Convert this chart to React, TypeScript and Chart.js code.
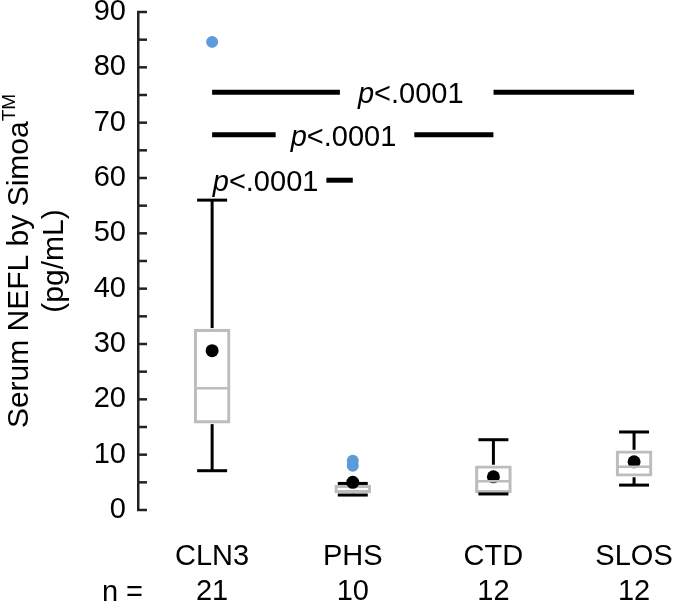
import { useEffect, useRef } from 'react';
import { Chart, registerables } from 'chart.js';

Chart.register(...registerables);

// ---- data ----
const categories = ['CLN3', 'PHS', 'CTD', 'SLOS'];
const nCounts = ['21', '10', '12', '12'];
const whiskerLow = [7.1, 2.7, 2.9, 4.5];
const q1 = [15.7, 3.1, 3.1, 6.1];
const median = [22.0, 3.4, 5.2, 7.8];
const q3 = [32.7, 4.5, 8.0, 10.7];
const whiskerHigh = [56.0, 4.8, 12.7, 14.1];
const means = [28.8, 5.0, 6.0, 8.7];
const outlierCat = [0, 1, 1];
const outlierVal = [84.6, 8.0, 8.9];
const bracketFrom = [0, 0, 0];
const bracketTo = [3, 2, 1];
const bracketY = [75.5, 67.8, 59.6];
const bracketLabel = ['p<.0001', 'p<.0001', 'p<.0001'];
const yMin = 0;
const yMax = 90;
const yStep = 5;
const yLabelStep = 10;

// ---- layout / style ----
const FONT = '"Liberation Sans", Arial, Helvetica, sans-serif';
const BOX_GRAY = '#bdbdbd';
const LABEL_POS = [1.412, 0.934, 0.38];
const PAD_L = [18, 15, 8];
const PAD_R = [30, 18, 8];

const overlay = {
  id: 'overlay',
  afterDatasetsDraw(chart: any) {
    const { ctx } = chart;
    const x = chart.scales.x;
    const y = chart.scales.y;
    ctx.save();
    // whiskers
    ctx.strokeStyle = '#000';
    ctx.lineWidth = 3;
    ctx.lineCap = 'butt';
    const line = (a: number, b: number, c: number, d: number) => {
      ctx.beginPath();
      ctx.moveTo(a, b);
      ctx.lineTo(c, d);
      ctx.stroke();
    };
    for (let i = 0; i < categories.length; i++) {
      const cx = x.getPixelForValue(i);
      const yq1 = y.getPixelForValue(q1[i]);
      const yq3 = y.getPixelForValue(q3[i]);
      const ylo = y.getPixelForValue(whiskerLow[i]);
      const yhi = y.getPixelForValue(whiskerHigh[i]);
      if (yhi < yq3 - 1) line(cx, yq3 - 1, cx, yhi);
      line(cx - 15, yhi, cx + 15, yhi);
      if (ylo > yq1 + 1) line(cx, yq1 + 1, cx, ylo);
      line(cx - 15, ylo, cx + 15, ylo);
    }
    // medians
    ctx.strokeStyle = BOX_GRAY;
    ctx.lineWidth = 2.5;
    for (let i = 0; i < categories.length; i++) {
      const cx = x.getPixelForValue(i);
      const ym = y.getPixelForValue(median[i]);
      line(cx - 17, ym, cx + 17, ym);
    }
    // brackets with p labels
    ctx.strokeStyle = '#000';
    ctx.fillStyle = '#000';
    ctx.lineWidth = 5;
    ctx.textBaseline = 'alphabetic';
    ctx.textAlign = 'left';
    for (let k = 0; k < bracketY.length; k++) {
      const x1 = x.getPixelForValue(bracketFrom[k]);
      const x2 = x.getPixelForValue(bracketTo[k]);
      const yy = y.getPixelForValue(bracketY[k]);
      const tc = x.getPixelForValue(LABEL_POS[k]);
      const first = bracketLabel[k].slice(0, 1);
      const rest = bracketLabel[k].slice(1);
      ctx.font = `italic 29px ${FONT}`;
      const w1 = ctx.measureText(first).width;
      ctx.font = `29px ${FONT}`;
      const w2 = ctx.measureText(rest).width;
      const tl = tc - (w1 + w2) / 2;
      const tr = tc + (w1 + w2) / 2;
      if (tl - PAD_L[k] > x1 + 2) line(x1, yy, tl - PAD_L[k], yy);
      if (tr + PAD_R[k] < x2 - 2) line(tr + PAD_R[k], yy, x2, yy);
      ctx.font = `italic 29px ${FONT}`;
      ctx.fillText(first, tl, yy + 11);
      ctx.font = `29px ${FONT}`;
      ctx.fillText(rest, tl + w1, yy + 11);
    }
    ctx.restore();
  },
  afterDraw(chart: any) {
    const { ctx, chartArea } = chart;
    const y = chart.scales.y;
    ctx.save();
    // inward ticks
    ctx.strokeStyle = '#222';
    ctx.lineWidth = 2.5;
    for (let v = yMin; v <= yMax; v += yStep) {
      const py = y.getPixelForValue(v);
      ctx.beginPath();
      ctx.moveTo(chartArea.left - 1, py);
      ctx.lineTo(chartArea.left + 9, py);
      ctx.stroke();
    }
    // y title
    ctx.fillStyle = '#000';
    const cy = (chartArea.top + chartArea.bottom) / 2;
    ctx.translate(28, cy);
    ctx.rotate(-Math.PI / 2);
    ctx.textBaseline = 'alphabetic';
    ctx.textAlign = 'left';
    const main = 'Serum NEFL by Simoa';
    const sup = 'TM';
    ctx.font = `30px ${FONT}`;
    const wm = ctx.measureText(main).width;
    ctx.font = `19px ${FONT}`;
    const ws = ctx.measureText(sup).width;
    const start = -(wm + ws) / 2;
    ctx.font = `30px ${FONT}`;
    ctx.fillText(main, start, 0);
    ctx.font = `19px ${FONT}`;
    ctx.fillText(sup, start + wm, -13);
    ctx.font = `30px ${FONT}`;
    ctx.textAlign = 'center';
    ctx.fillText('(pg/mL)', 0, 35);
    ctx.restore();
    // n =
    ctx.save();
    ctx.fillStyle = '#000';
    ctx.font = `29px ${FONT}`;
    ctx.textAlign = 'right';
    ctx.textBaseline = 'alphabetic';
    ctx.fillText('n =', 143, 601);
    ctx.restore();
  },
};

export default function App() {
  const ref = useRef<HTMLCanvasElement | null>(null);
  useEffect(() => {
    if (!ref.current) return;
    const chart = new Chart(ref.current, {
      type: 'bar',
      data: {
        datasets: [
          {
            type: 'scatter',
            data: means.map((m, i) => ({ x: i, y: m })),
            pointRadius: 6.5,
            pointBackgroundColor: '#000',
            pointBorderWidth: 0,
            order: 1,
          } as any,
          {
            type: 'scatter',
            data: outlierVal.map((v, i) => ({ x: outlierCat[i], y: v })),
            pointRadius: 6,
            pointBackgroundColor: '#5b9bd9',
            pointBorderWidth: 0,
            order: 1,
          } as any,
          {
            type: 'bar',
            data: categories.map((_, i) => ({ x: i, y: [q1[i], q3[i]] })),
            backgroundColor: 'rgba(255,255,255,0)',
            borderColor: BOX_GRAY,
            borderWidth: 2.5,
            borderSkipped: false,
            barThickness: 36,
            order: 3,
          } as any,
        ],
      },
      options: {
        animation: false,
        responsive: true,
        maintainAspectRatio: false,
        layout: { padding: { top: 12, right: 0, bottom: 0, left: 0 } },
        plugins: { legend: { display: false }, tooltip: { enabled: false } },
        scales: {
          x: {
            type: 'linear',
            min: -0.527,
            max: 3.316,
            offset: false,
            grid: { display: false, drawTicks: false },
            border: { display: false },
            afterBuildTicks: (scale: any) => {
              scale.ticks = categories.map((_, i) => ({ value: i }));
            },
            afterFit: (scale: any) => {
              scale.height = 99;
              scale.paddingLeft = 0;
              scale.paddingRight = 0;
            },
            ticks: {
              autoSkip: false,
              maxRotation: 0,
              padding: 30,
              color: '#000',
              font: { family: FONT, size: 29, lineHeight: 1.2 },
              callback: (v: any) => [categories[v], nCounts[v]],
            },
          } as any,
          y: {
            type: 'linear',
            min: yMin,
            max: yMax,
            grid: { display: false, drawTicks: false },
            border: { display: true, color: '#222', width: 2.5 },
            afterFit: (scale: any) => {
              scale.width = 138;
              scale.paddingTop = 0;
              scale.paddingBottom = 0;
            },
            ticks: {
              stepSize: yStep,
              padding: 12,
              color: '#000',
              font: { family: FONT, size: 29 },
              callback: (v: any) => (v % yLabelStep === 0 ? String(v) : ''),
            },
          } as any,
        },
      },
      plugins: [overlay],
    });
    return () => chart.destroy();
  }, []);
  return (
    <div style={{ position: 'fixed', left: 0, top: 0, width: 685, height: 609, background: '#fff' }}>
      <canvas ref={ref} />
    </div>
  );
}
